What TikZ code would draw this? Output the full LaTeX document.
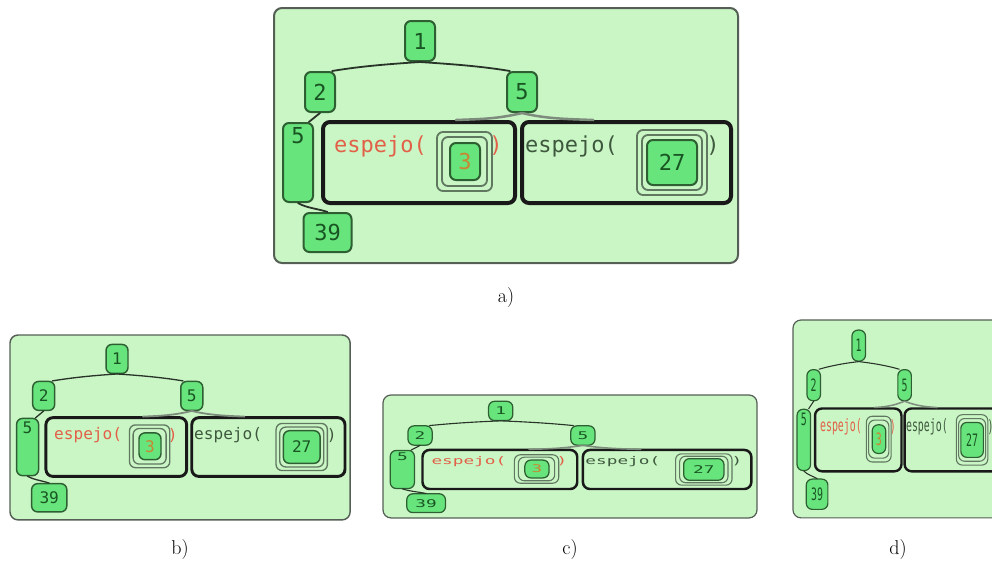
\documentclass[tikz,border=0pt]{standalone}
\usepackage{fontspec}
\newfontfamily\codefont{DejaVu Sans Mono}

\definecolor{panelfill}{RGB}{202,246,197}
\definecolor{panelline}{RGB}{85,95,85}
\definecolor{nodefill}{RGB}{104,228,124}
\definecolor{nodeline}{RGB}{45,95,50}
\definecolor{numtext}{RGB}{25,85,35}
\definecolor{framegray}{RGB}{95,120,95}
\definecolor{callred}{RGB}{226,96,72}
\definecolor{callgray}{RGB}{62,88,62}
\definecolor{argorange}{RGB}{200,135,50}
\definecolor{edgedark}{RGB}{40,52,40}
\definecolor{edgegray}{RGB}{125,140,125}

% line-width factor, reset for every panel
\newcommand\lwf{1}

\tikzset{
  panelbox/.style={draw=panelline, fill=panelfill, line width=2pt*\lwf,
    rounded corners=8pt, minimum width=464pt, minimum height=255pt, inner sep=0pt},
  num/.style={draw=nodeline, fill=nodefill, line width=2pt*\lwf, rounded corners=6pt,
    minimum width=30pt, minimum height=40pt, inner sep=0pt, text=numtext,
    font=\codefont\fontsize{22}{24}\selectfont},
  callbox/.style={draw=black!90, line width=4pt*\lwf, rounded corners=7pt, inner sep=0pt},
  argframe/.style={draw=framegray, line width=1.8pt*\lwf, rounded corners=6pt, inner sep=0pt},
  code/.style={font=\codefont\fontsize{22}{24}\selectfont, inner sep=0pt},
  edge/.style={draw=edgedark, line width=1.8pt*\lwf, line cap=round},
  subedge/.style={draw=edgegray, line width=2.5pt*\lwf, line cap=round},
  caption/.style={font=\fontsize{20}{24}\selectfont, inner sep=0pt},
}

% one tree panel, drawn in its own 464 x 255 frame; #1 prefixes node names
\newcommand\treepanel[1]{%
  \node[panelbox] (#1-frame) at (232,127.5) {};
  % tree nodes
  \node[num] (#1-n1) at (146,33) {1};
  \node[num] (#1-n2) at (46,84) {2};
  \node[num] (#1-n5) at (248,84) {5};
  \node[num, minimum height=79pt, text height=16pt, text depth=54pt] (#1-n5b) at (24,154.5) {5};
  \node[num, minimum width=48pt, minimum height=39pt] (#1-n39) at (53.5,224.5) {39};
  % the two recursive calls
  \node[callbox, minimum width=192pt, minimum height=81pt] (#1-callL) at (145,154.5) {};
  \node[callbox, minimum width=209pt, minimum height=81pt] (#1-callR) at (352.5,154.5) {};
  \node[code, text=callred, anchor=west] (#1-fnL) at (60,138) {espejo(};
  \node[code, text=callred] (#1-clL) at (222,138) {)};
  \node[argframe, minimum width=55pt, minimum height=59pt] (#1-argL) at (190.5,153.5) {};
  \node[argframe, minimum width=45pt, minimum height=49pt] (#1-argLi) at (190.5,153.5) {};
  \node[num, text=argorange, minimum height=37pt] (#1-n3) at (191,153.5) {3};
  \node[code, text=callgray, anchor=west] (#1-fnR) at (251,138) {espejo(};
  \node[code, text=callgray] (#1-clR) at (439,138) {)};
  \node[argframe, minimum width=70pt, minimum height=65pt] (#1-argR) at (398,154.5) {};
  \node[argframe, minimum width=60pt, minimum height=55pt] (#1-argRi) at (398,154.5) {};
  \node[num, minimum width=50pt, minimum height=45pt] (#1-n27) at (398,154.5) {27};
  % edges
  \draw[edge] (#1-n1.south) .. controls +(-30,2) and +(30,-5) .. (#1-n2.60);
  \draw[edge] (#1-n1.south) .. controls +(30,2) and +(-30,-5) .. (#1-n5.120);
  \draw[edge] (#1-n2.south) -- (#1-n5b.75);
  \draw[edge] (#1-n5b.south) .. controls +(8,5) and +(-8,-3) .. (#1-n39.north);
  \draw[subedge] (#1-n5.south) .. controls +(-25,6) and +(25,-1) .. (#1-callL.49);
  \draw[subedge] (#1-n5.south) .. controls +(25,6) and +(-25,-1) .. (#1-callR.128);
}

\begin{document}
\begin{tikzpicture}[x=1pt, y=-1pt]
  \useasboundingbox (0,0) rectangle (992,571);
  \fill[white] (0,0) rectangle (992,571);
  \clip (0,0) rectangle (992,571);

  \begin{scope}[shift={(274,8)}, transform shape]
    \renewcommand\lwf{1}
    \treepanel{a}
  \end{scope}

  \begin{scope}[shift={(10,335)}, xscale=0.733, yscale=0.725, transform shape]
    \renewcommand\lwf{0.73}
    \treepanel{b}
  \end{scope}

  \begin{scope}[shift={(383,395)}, xscale=0.806, yscale=0.482, transform shape]
    \renewcommand\lwf{0.62}
    \treepanel{c}
  \end{scope}

  \begin{scope}[shift={(793,320)}, xscale=0.45, yscale=0.776, transform shape]
    \renewcommand\lwf{0.6}
    \treepanel{d}
  \end{scope}

  \node[caption] (capa) at (506,298) {a)};
  \node[caption] (capb) at (180,549) {b)};
  \node[caption] (capc) at (570,549) {c)};
  \node[caption] (capd) at (898,549) {d)};
\end{tikzpicture}
\end{document}
